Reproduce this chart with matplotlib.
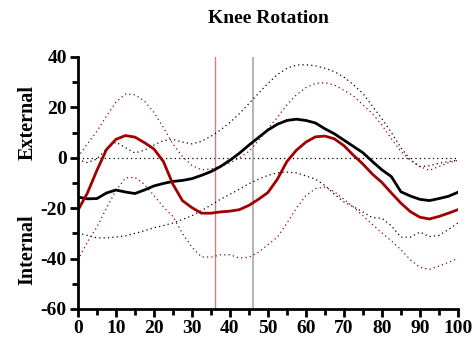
import numpy as np
import matplotlib.pyplot as plt

# gait cycle (%)
cycle = [0, 2.5, 5, 7.5, 10, 12.5, 15, 17.5, 20, 22.5, 25, 27.5, 30, 32.5, 35, 37.5,
         40, 42.5, 45, 47.5, 50, 52.5, 55, 57.5, 60, 62.5, 65, 67.5, 70, 72.5, 75,
         77.5, 80, 82.5, 85, 87.5, 90, 92.5, 95, 97.5, 100]

# black group: mean and +/- sd
black_mean = [-15.6, -16.3, -16.2, -14.0, -12.8, -13.6, -14.2, -12.8, -11.2, -10.2, -9.4,
              -9.0, -8.3, -7.0, -5.5, -3.5, -1.0, 1.8, 5.0, 8.0, 11.0, 13.3, 14.8, 15.3,
              14.8, 13.8, 11.5, 9.5, 7.0, 4.5, 2.0, -1.5, -4.8, -7.5, -13.5, -15.2, -16.5,
              -17.0, -16.2, -15.3, -13.7]
black_upper = [-0.8, -1.9, -0.5, 3.5, 6.2, 4.0, 1.9, 3.0, 5.0, 6.8, 7.3, 6.2, 5.5, 6.5,
               8.5, 11.0, 14.0, 17.5, 21.5, 25.5, 29.5, 33.0, 35.5, 36.8, 36.9, 36.5,
               35.5, 34.2, 32.0, 29.0, 25.5, 20.5, 15.5, 10.0, 4.0, -0.8, -3.5, -3.2,
               -2.2, -1.5, -1.0]
black_lower = [-29.9, -30.8, -31.8, -31.8, -31.5, -31.0, -30.0, -29.0, -27.8, -26.9, -25.9,
               -24.5, -23.0, -21.0, -18.8, -16.5, -14.5, -12.5, -10.3, -8.5, -7.0, -6.0,
               -5.7, -6.0, -7.2, -8.5, -11.0, -14.5, -17.5, -19.5, -21.5, -23.8, -24.0,
               -27.0, -31.5, -31.5, -29.5, -31.3, -30.8, -28.5, -25.9]

# red group: mean and +/- sd
red_mean = [-20.9, -14.0, -5.0, 3.2, 7.3, 8.8, 8.2, 6.0, 3.5, -1.5, -10.5, -17.0, -19.8,
            -22.0, -22.0, -21.5, -21.2, -20.6, -18.9, -16.5, -13.8, -8.5, -1.5, 3.0, 6.2,
            8.3, 8.6, 7.5, 4.8, 1.0, -2.5, -6.5, -9.8, -14.0, -18.0, -21.4, -23.6, -24.3,
            -23.3, -22.0, -20.6]
red_upper = [0.3, 5.5, 10.5, 16.5, 22.0, 25.3, 25.0, 22.5, 18.0, 12.0, 5.5, 0.5, -3.0,
             -4.8, -4.5, -3.5, -2.0, 0.0, 2.5, 6.8, 11.5, 16.0, 21.0, 25.0, 27.8, 29.5,
             29.8, 28.8, 26.8, 24.5, 21.0, 17.5, 13.0, 7.5, 2.5, -1.0, -3.5, -5.0, -3.5,
             -2.0, -1.0]
red_lower = [-40.5, -33.5, -27.5, -20.0, -13.0, -8.0, -7.8, -10.5, -15.0, -19.5, -23.3,
             -30.0, -35.5, -39.3, -39.5, -38.5, -38.5, -39.8, -39.5, -37.5, -34.5, -31.5,
             -26.0, -20.0, -15.0, -12.3, -11.6, -13.5, -16.5, -19.5, -23.0, -26.5, -29.8,
             -33.0, -36.5, -40.5, -43.5, -44.3, -43.0, -41.5, -40.0]

# toe-off events
red_event = 36
black_event = 46

plt.rcParams['font.family'] = ['Liberation Serif', 'DejaVu Serif']
plt.rcParams['font.weight'] = 'bold'
plt.rcParams['axes.unicode_minus'] = False

fig = plt.figure(figsize=(4.75, 3.41), dpi=100)
ax = fig.add_axes([0.164, 0.094, 0.8, 0.739])

dark_red = '#A00000'
dots = (0, (1, 2.5))
ax.axhline(0, color='black', lw=0.9, ls=dots)
ax.axvline(red_event, color='#C88080', lw=1.0)
ax.axvline(black_event, color='#A8A8A8', lw=1.2)

ax.plot(cycle, black_upper, color='black', lw=0.9, ls=dots)
ax.plot(cycle, black_lower, color='black', lw=0.9, ls=dots)
ax.plot(cycle, red_upper, color=dark_red, lw=0.9, ls=dots)
ax.plot(cycle, red_lower, color=dark_red, lw=0.9, ls=dots)
ax.plot(cycle, black_mean, color='black', lw=2.0)
ax.plot(cycle, red_mean, color=dark_red, lw=2.0)

ax.set_xlim(0, 100)
ax.set_ylim(-60, 40)
ax.set_xticks(range(0, 101, 10))
ax.set_xticks(range(5, 100, 10), minor=True)
ax.set_yticks(range(-60, 41, 20))
ax.set_yticks(range(-50, 40, 20), minor=True)
ax.tick_params(which='major', length=6, width=2, labelsize=14, pad=2)
ax.tick_params(which='minor', length=4, width=2)
for s in ['top', 'right']:
    ax.spines[s].set_visible(False)
for s in ['left', 'bottom']:
    ax.spines[s].set_linewidth(2)
for lab in ax.get_xticklabels() + ax.get_yticklabels():
    lab.set_fontweight('bold')

fig.text(0.565, 0.947, 'Knee Rotation', ha='center', va='center',
         fontsize=14, fontweight='bold')
fig.text(0.058, 0.64, 'External', rotation=90, ha='center', va='center',
         fontsize=14.5, fontweight='bold')
fig.text(0.058, 0.267, 'Internal', rotation=90, ha='center', va='center',
         fontsize=14.5, fontweight='bold')

fig.savefig('out.png', dpi=100)
